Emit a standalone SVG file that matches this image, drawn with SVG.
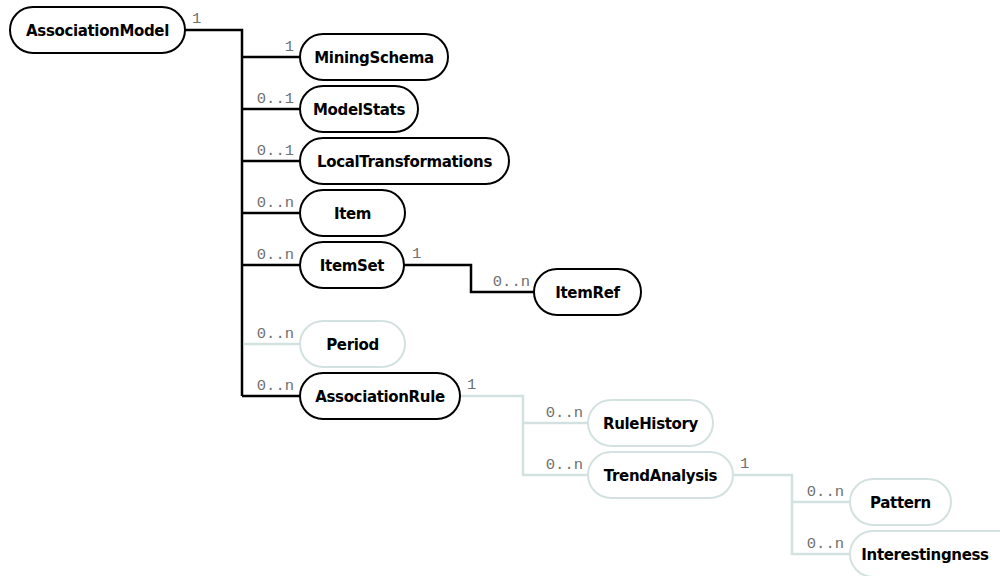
<svg xmlns="http://www.w3.org/2000/svg" width="1000" height="576" viewBox="0 0 1000 576">
  <style>
    .node rect { fill: #ffffff; stroke: #000000; stroke-width: 2; }
    .node.opt rect { stroke: #d3e2e0; }
    .node text { font-family: "DejaVu Sans", Verdana, sans-serif; font-weight: bold; font-size: 15px; letter-spacing: -0.35px; fill: #000000; text-anchor: middle; }
    .edge { fill: none; stroke: #000000; stroke-width: 2.5; }
    .edge.opt { stroke: #d3e2e0; }
    .card { font-family: "Liberation Mono", "Courier New", monospace; font-size: 15.5px; fill: #707070; }
    .card.end { text-anchor: end; }
  </style>
  <rect width="1000" height="576" fill="#ffffff"/>

  <!-- connectors -->
  <g id="connectors">
    <path class="edge" d="M185,30 H242 V396"/>
    <path class="edge" d="M242,57 H300"/>
    <path class="edge" d="M242,109 H300"/>
    <path class="edge" d="M242,161 H300"/>
    <path class="edge" d="M242,213 H300"/>
    <path class="edge" d="M242,265 H300"/>
    <path class="edge opt" d="M243.5,344 H300"/>
    <path class="edge" d="M242,396 H300"/>
    <path class="edge" d="M404,265 H471 V292 H534"/>
    <path class="edge opt" d="M460,396 H523 V475 H588"/>
    <path class="edge opt" d="M523,423 H588"/>
    <path class="edge opt" d="M733,475 H792 V554 H850"/>
    <path class="edge opt" d="M792,502 H850"/>

    <text class="card" x="192" y="23">1</text>
    <text class="card end" x="294" y="51">1</text>
    <text class="card end" x="294" y="103">0..1</text>
    <text class="card end" x="294" y="155">0..1</text>
    <text class="card end" x="294" y="207">0..n</text>
    <text class="card end" x="294" y="259">0..n</text>
    <text class="card end" x="294" y="338">0..n</text>
    <text class="card end" x="294" y="390">0..n</text>
    <text class="card" x="412" y="258">1</text>
    <text class="card end" x="530" y="286">0..n</text>
    <text class="card" x="467" y="389">1</text>
    <text class="card end" x="583" y="417">0..n</text>
    <text class="card end" x="583" y="469">0..n</text>
    <text class="card" x="740" y="468">1</text>
    <text class="card end" x="844" y="496">0..n</text>
    <text class="card end" x="844" y="548">0..n</text>
  </g>

  <!-- nodes -->
  <g id="AssociationModel" class="node">
    <rect x="10" y="7" width="175" height="46" rx="23"/>
    <text x="97.5" y="35.5">AssociationModel</text>
  </g>
  <g id="MiningSchema" class="node">
    <rect x="300" y="34" width="148" height="46" rx="23"/>
    <text x="374" y="62.5">MiningSchema</text>
  </g>
  <g id="ModelStats" class="node">
    <rect x="300" y="86" width="118" height="46" rx="23"/>
    <text x="359" y="114.5">ModelStats</text>
  </g>
  <g id="LocalTransformations" class="node">
    <rect x="300" y="138" width="209" height="46" rx="23"/>
    <text x="404.5" y="166.5">LocalTransformations</text>
  </g>
  <g id="Item" class="node">
    <rect x="300" y="190" width="105" height="46" rx="23"/>
    <text x="352.5" y="218.5">Item</text>
  </g>
  <g id="ItemSet" class="node">
    <rect x="300" y="242" width="104" height="46" rx="23"/>
    <text x="352" y="270.5">ItemSet</text>
  </g>
  <g id="ItemRef" class="node">
    <rect x="534" y="269" width="107" height="46" rx="23"/>
    <text x="587.5" y="297.5">ItemRef</text>
  </g>
  <g id="Period" class="node opt">
    <rect x="300" y="321" width="105" height="46" rx="23"/>
    <text x="352.5" y="349.5">Period</text>
  </g>
  <g id="AssociationRule" class="node">
    <rect x="300" y="373" width="160" height="46" rx="23"/>
    <text x="380" y="401.5">AssociationRule</text>
  </g>
  <g id="RuleHistory" class="node opt">
    <rect x="588" y="400" width="125" height="46" rx="23"/>
    <text x="650.5" y="428.5">RuleHistory</text>
  </g>
  <g id="TrendAnalysis" class="node opt">
    <rect x="588" y="452" width="145" height="46" rx="23"/>
    <text x="660.5" y="480.5">TrendAnalysis</text>
  </g>
  <g id="Pattern" class="node opt">
    <rect x="850" y="479" width="101" height="46" rx="23"/>
    <text x="900.5" y="507.5">Pattern</text>
  </g>
  <g id="Interestingness" class="node opt">
    <rect x="850" y="531" width="186" height="46" rx="23"/>
    <text x="925" y="559.5">Interestingness</text>
  </g>
</svg>
